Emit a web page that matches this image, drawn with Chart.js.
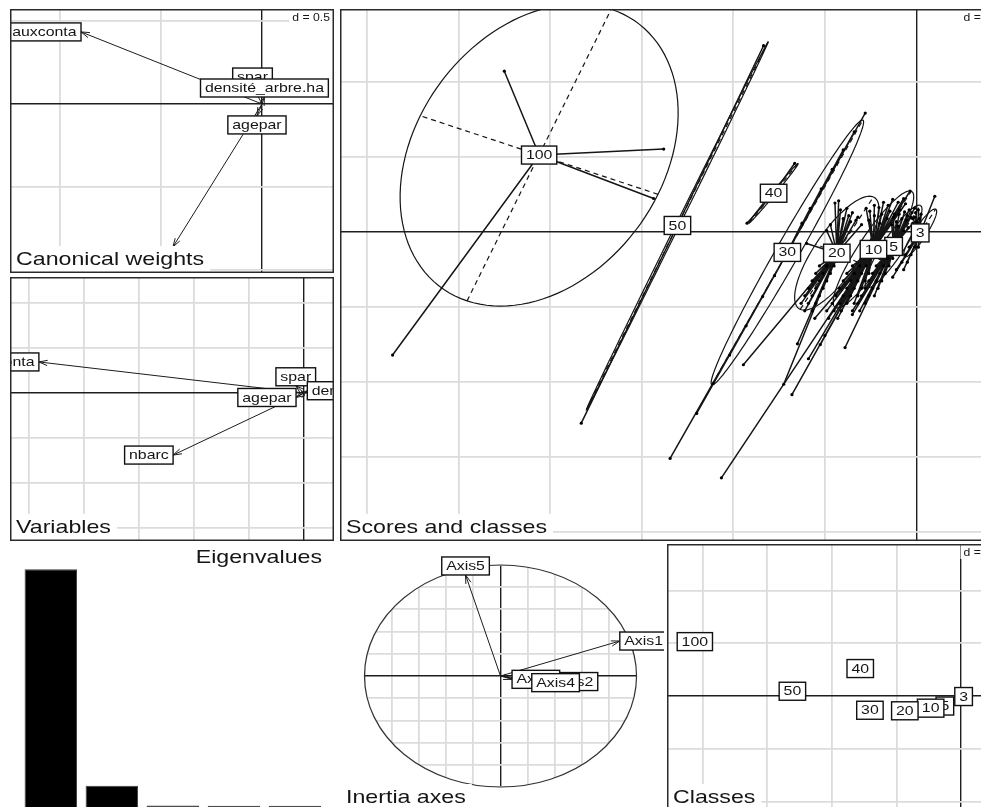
<!DOCTYPE html>
<html>
<head>
<meta charset="utf-8">
<title>Discriminant analysis</title>
<script src="https://cdn.jsdelivr.net/npm/chart.js@4.4.0/dist/chart.umd.min.js"></script>
<style>
  html, body { margin: 0; padding: 0; background: #fff; overflow: hidden; width: 981px; height: 807px; }
  canvas { position: absolute; }
</style>
</head>
<body>
<canvas id="weights"  width="324" height="264" style="left:10px;top:9px"></canvas>
<canvas id="vars"     width="324" height="264" style="left:10px;top:277px"></canvas>
<canvas id="scores"   width="655" height="532" style="left:340px;top:9px"></canvas>
<canvas id="eigen"    width="324" height="266" style="left:10px;top:545px"></canvas>
<canvas id="inertia"  width="324" height="266" style="left:340px;top:545px"></canvas>
<canvas id="classes"  width="328" height="267" style="left:667px;top:544px"></canvas>
<script>
// ---------- data ----------
const variables = ['agepar', 'nbarc', 'auxconta', 'spar', 'densité_arbre.ha'];
// canonical weights of the variables
const canonicalX = [-0.025, -0.441, -0.896, -0.047, 0.012];
const canonicalY = [-0.072, -0.861, 0.434, 0.108, 0.042];
// correlations between variables and discriminant scores
const variableX = [-0.029, -0.476, -0.964, -0.030, 0.012];
const variableY = [-0.020, -0.276, 0.138, 0.032, 0.010];

const eigenAxes = ['1', '2', '3', '4', '5'];
const eigenvalues = [0.786, 0.082, 0.018, 0.017, 0.017];

const inertiaNames = ['Axis1', 'Axis2', 'Axis3', 'Axis4', 'Axis5'];
const inertiaX = [0.877, 0.365, 0.085, 0.230, -0.257];
const inertiaY = [0.315, -0.050, -0.030, -0.060, 0.910];

const classes = ['3', '5', '10', '20', '30', '40', '50', '100'];
const classX = [0.04, -0.25, -0.47, -0.87, -1.41, -1.56, -2.61, -4.12];
const classY = [-0.01, -0.19, -0.23, -0.28, -0.27, 0.52, 0.09, 1.03];

// dispersion ellipses of the classes: half axes and orientation (degrees)
const ellipseA = [0.36, 0.62, 0.88, 0.85, 1.95, 0.48, 2.65, 2.10];
const ellipseB = [0.07, 0.12, 0.17, 0.26, 0.13, 0.02, 0.02, 1.40];
const ellipseAngle = [62, 62, 62, 62, 65, 56, 68, 68];

// individual discriminant scores, one list per class
const scores3 = [[0.20,0.48],[0.02,0.30],[0.05,0.24],[-0.02,0.20],[0.00,0.14],[0.08,0.10],
  [-0.04,0.18],[-0.01,0.26],[0.03,0.18],
  [-0.04,-0.10],[0.02,-0.10],[-0.08,-0.20],[-0.02,-0.20],[0.02,-0.20],[-0.12,-0.30],
  [-0.06,-0.30],[-0.16,-0.40],[-0.10,-0.40],[-0.22,-0.50],[-0.14,-0.50],[-0.26,-0.60]];
const scores5 = [[-0.02,0.32],[-0.05,0.26],[-0.08,0.30],[-0.10,0.22],[-0.13,0.27],[-0.16,0.18],
  [-0.19,0.24],[-0.22,0.14],[-0.25,0.20],[-0.04,0.12],[-0.09,0.06],[-0.14,0.02],
  [-0.20,0.08],[-0.27,0.10],[-0.06,0.20],[-0.11,0.16],
  [-0.32,-0.35],[-0.40,-0.35],[-0.26,-0.35],[-0.36,-0.45],[-0.44,-0.45],[-0.30,-0.45],
  [-0.40,-0.55],[-0.48,-0.55],[-0.34,-0.55],[-0.44,-0.65],[-0.52,-0.65],[-0.38,-0.65],
  [-0.48,-0.75],[-0.56,-0.75],[-0.42,-0.75],[-0.52,-0.85],[-0.60,-0.85],[-0.46,-0.85],
  [-0.56,-0.95],[-0.64,-0.95],[-0.62,-1.05],[-0.70,-1.05],[-0.78,-1.54],[-0.70,-1.10]];
const scores10 = [[-0.07,0.55],[-0.14,0.45],[-0.20,0.40],[-0.26,0.44],[-0.31,0.36],[-0.36,0.40],
  [-0.41,0.33],[-0.46,0.36],[-0.51,0.28],[-0.55,0.32],[-0.24,0.24],[-0.32,0.18],[-0.40,0.12],
  [-0.18,0.30],[-0.29,0.28],[-0.38,0.24],[-0.46,0.22],[-0.52,0.16],[-0.12,0.38],
  [-0.62,-0.45],[-0.70,-0.45],[-0.55,-0.45],[-0.60,-0.55],[-0.68,-0.55],[-0.76,-0.55],
  [-0.52,-0.55],[-0.64,-0.65],[-0.72,-0.65],[-0.80,-0.65],[-0.56,-0.65],[-0.68,-0.75],
  [-0.76,-0.75],[-0.84,-0.75],[-0.60,-0.75],[-0.72,-0.85],[-0.80,-0.85],[-0.88,-0.85],
  [-0.64,-0.85],[-0.76,-0.95],[-0.84,-0.95],[-0.92,-0.95],[-0.68,-0.95],[-0.82,-1.05],
  [-0.90,-1.05],[-0.98,-1.05],[-0.86,-1.15],[-0.96,-1.15],[-1.11,-1.15],[-1.18,-1.69],
  [-1.36,-2.17],[-2.13,-3.28],[-1.05,-1.50],[-1.00,-1.38]];
const scores20 = [[-0.89,0.39],[-0.85,0.42],[-0.76,0.32],[-0.70,0.26],[-0.64,0.20],[-0.72,0.14],
  [-0.80,0.18],[-0.60,0.10],[-0.98,0.02],[-1.20,-0.15],[-0.74,0.22],[-0.66,0.16],
  [-0.83,0.30],[-0.94,0.10],
  [-0.98,-0.45],[-1.06,-0.45],[-0.90,-0.45],[-1.02,-0.55],[-1.10,-0.55],[-0.94,-0.55],
  [-1.06,-0.65],[-1.14,-0.65],[-0.98,-0.65],[-1.10,-0.75],[-1.18,-0.75],[-1.02,-0.75],
  [-1.14,-0.85],[-1.22,-0.85],[-1.06,-0.85],[-1.18,-0.95],[-1.26,-0.95],[-1.10,-0.95],
  [-1.22,-1.05],[-1.14,-1.05],[-1.30,-1.49],[-1.89,-1.77],[-1.45,-2.03]];
const scores30 = [[-0.56,1.59],[-0.68,1.34],[-0.80,1.10],[-0.92,0.84],[-1.04,0.58],[-1.16,0.32],
  [-1.25,0.12],[-2.69,-3.02],[-2.40,-2.42],[-2.22,-2.02],[-2.04,-1.64],[-1.86,-1.25],
  [-1.68,-0.86],[-1.55,-0.58]];
const scores40 = [[-1.33,0.92],[-1.85,0.12]];
const scores50 = [[-1.67,2.49],[-3.66,-2.55]];
const scores100 = [[-4.50,2.15],[-2.76,1.11],[-2.87,0.45],[-5.72,-1.64]];
const classScores = [scores3, scores5, scores10, scores20, scores30, scores40, scores50, scores100];

// ---------- drawing helpers ----------
const SX = 1.22;                       // horizontal stretch of the lettering
const FAMILY = '"Liberation Sans", Arial, sans-serif';
const LABEL_FONT = '13px ' + FAMILY;
const TITLE_FONT = '19px ' + FAMILY;
const D_FONT = '10px ' + FAMILY;
const GRID = '#dcdcdc', AXIS = '#1e1e1e', INK = '#151515';
const BOX_H = 18;

Chart.defaults.animation = false;
Chart.defaults.events = [];
Chart.defaults.plugins.legend.display = false;
Chart.defaults.plugins.tooltip.enabled = false;

const flatLayout = { autoPadding: false, padding: 0 };

function multiples(min, max, step) {
  const out = [];
  for (let k = Math.ceil(min / step - 1e-9); k * step <= max + 1e-9; k++) out.push(+(k * step).toFixed(10));
  return out;
}
function linScale(min, max, step) {
  return {
    type: 'linear', min, max,
    ticks: { display: false },
    border: { display: false },
    grid: {
      drawTicks: false,
      color: c => Math.abs(c.tick.value) < 1e-9 ? AXIS : GRID,
      lineWidth: c => Math.abs(c.tick.value) < 1e-9 ? 1.4 : 1.8
    },
    afterBuildTicks: s => { s.ticks = multiples(min, max, step).map(v => ({ value: v })); }
  };
}
function textW(ctx, t, font) {
  ctx.save(); ctx.font = font; const w = ctx.measureText(t).width * SX; ctx.restore(); return w;
}
function drawText(ctx, t, x, y, font, align, color) {
  ctx.save(); ctx.translate(x, y); ctx.scale(SX, 1);
  ctx.font = font; ctx.textAlign = align || 'center'; ctx.textBaseline = 'middle';
  ctx.fillStyle = color || INK; ctx.fillText(t, 0, 0); ctx.restore();
}
function labelBox(ctx, t, x0, y0, w, h) {
  ctx.save();
  ctx.fillStyle = '#fff'; ctx.fillRect(x0, y0, w, h);
  ctx.strokeStyle = '#111'; ctx.lineWidth = 1.4; ctx.strokeRect(x0, y0, w, h);
  ctx.restore();
  drawText(ctx, t, x0 + w / 2, y0 + h / 2 + 0.5, LABEL_FONT);
}
function centredLabel(ctx, t, px, py) {
  const w = textW(ctx, ' ' + t + ' ', LABEL_FONT);
  labelBox(ctx, t, px - w / 2, py - BOX_H / 2, w, BOX_H);
}
// label beside an arrow tip, on the side the arrow points to
function arrowLabel(ctx, t, px, py, xr, yr) {
  const w = textW(ctx, ' ' + t + ' ', LABEL_FONT), h = BOX_H;
  let x0, y0;
  if (xr > yr && xr > -yr) { x0 = px; y0 = py - h / 2; }
  else if (xr > yr) { x0 = px - w / 2; y0 = py; }
  else if (xr <= -yr) { x0 = px - w; y0 = py - h / 2; }
  else { x0 = px - w / 2; y0 = py - h; }
  labelBox(ctx, t, x0, y0, w, h);
}
function arrow(ctx, x0, y0, x1, y1) {
  const a = Math.atan2(y1 - y0, x1 - x0), L = 9, t = 0.3;
  ctx.beginPath();
  ctx.moveTo(x0, y0); ctx.lineTo(x1, y1);
  ctx.moveTo(x1 - L * Math.cos(a - t), y1 - L * Math.sin(a - t));
  ctx.lineTo(x1, y1);
  ctx.lineTo(x1 - L * Math.cos(a + t), y1 - L * Math.sin(a + t));
  ctx.stroke();
}
function clipArea(ctx, a) {
  ctx.beginPath(); ctx.rect(a.left, a.top, a.right - a.left, a.bottom - a.top); ctx.clip();
}
function subTitle(chart, text) {
  const ctx = chart.ctx, a = chart.chartArea;
  const w = textW(ctx, text, TITLE_FONT) + 12, h = 27;
  ctx.fillStyle = '#fff'; ctx.fillRect(a.left, a.bottom - h, w, h);
  drawText(ctx, text, a.left + 6, a.bottom - 13, TITLE_FONT, 'left');
}
function dLabel(chart, text) {
  const ctx = chart.ctx, a = chart.chartArea;
  const w = textW(ctx, text, D_FONT);
  ctx.fillStyle = '#fff'; ctx.fillRect(a.right - w - 7, a.top, w + 7, 15);
  drawText(ctx, text, a.right - 4, a.top + 9, D_FONT, 'right');
}
function frame(chart) {
  const ctx = chart.ctx, a = chart.chartArea;
  ctx.save(); ctx.strokeStyle = '#2a2a2a'; ctx.lineWidth = 1.5;
  ctx.strokeRect(a.left + 0.75, a.top + 0.75, a.right - a.left - 1.5, a.bottom - a.top - 1.5);
  ctx.restore();
}
function unitCircle(ctx, xs, ys) {
  ctx.beginPath();
  ctx.ellipse(xs.getPixelForValue(0), ys.getPixelForValue(0),
    xs.getPixelForValue(1) - xs.getPixelForValue(0),
    ys.getPixelForValue(0) - ys.getPixelForValue(1), 0, 0, 2 * Math.PI);
}
function drawEllipse(ctx, xs, ys, cx, cy, a, b, deg) {
  const th = deg * Math.PI / 180, c = Math.cos(th), s = Math.sin(th);
  const P = (u, v) => [xs.getPixelForValue(cx + u * c - v * s), ys.getPixelForValue(cy + u * s + v * c)];
  ctx.beginPath();
  for (let k = 0; k <= 120; k++) {
    const t = 2 * Math.PI * k / 120;
    const p = P(a * Math.cos(t), b * Math.sin(t));
    if (k) ctx.lineTo(p[0], p[1]); else ctx.moveTo(p[0], p[1]);
  }
  ctx.stroke();
  ctx.save(); ctx.setLineDash([5, 4]); ctx.beginPath();
  let p1 = P(-a, 0), p2 = P(a, 0); ctx.moveTo(p1[0], p1[1]); ctx.lineTo(p2[0], p2[1]);
  p1 = P(0, -b); p2 = P(0, b); ctx.moveTo(p1[0], p1[1]); ctx.lineTo(p2[0], p2[1]);
  ctx.stroke(); ctx.restore();
}

// ---------- arrow panels ----------
function arrowPlugin(names, xs, ys, title, dText, opts) {
  opts = opts || {};
  return {
    id: 'arrows',
    beforeDraw(chart) {
      if (opts.circle) {
        const ctx = chart.ctx; ctx.save();
        unitCircle(ctx, chart.scales.x, chart.scales.y); ctx.clip();
      }
    },
    beforeDatasetsDraw(chart) {
      const ctx = chart.ctx;
      if (opts.circle) {
        ctx.restore();
        ctx.save(); ctx.strokeStyle = '#333'; ctx.lineWidth = 1.2;
        unitCircle(ctx, chart.scales.x, chart.scales.y); ctx.stroke(); ctx.restore();
      }
      if (dText) dLabel(chart, dText);
    },
    afterDatasetsDraw(chart) {
      const ctx = chart.ctx, a = chart.chartArea;
      const ox = chart.scales.x.getPixelForValue(0), oy = chart.scales.y.getPixelForValue(0);
      const meta = chart.getDatasetMeta(0);
      ctx.save(); clipArea(ctx, a);
      ctx.strokeStyle = '#1c1c1c'; ctx.lineWidth = 1;
      meta.data.forEach(p => arrow(ctx, ox, oy, p.x, p.y));
      meta.data.forEach((p, i) => arrowLabel(ctx, names[i], p.x, p.y, xs[i], ys[i]));
      ctx.restore();
    },
    afterDraw(chart) {
      subTitle(chart, title);
      if (!opts.circle) frame(chart);
    }
  };
}
function arrowChart(id, names, xs, ys, xr, yr, step, title, dText, opts) {
  return new Chart(document.getElementById(id), {
    type: 'scatter',
    data: { datasets: [{ data: names.map((_, i) => ({ x: xs[i], y: ys[i] })), pointRadius: 0 }] },
    options: {
      responsive: false, devicePixelRatio: 1, layout: flatLayout,
      scales: { x: linScale(xr[0], xr[1], step), y: linScale(yr[0], yr[1], step) }
    },
    plugins: [arrowPlugin(names, xs, ys, title, dText, opts)]
  });
}

arrowChart('weights', variables, canonicalX, canonicalY, [-1.2475, 0.3564], [-1.018, 0.572], 0.5,
  'Canonical weights', 'd = 0.5');
arrowChart('vars', variables, variableX, variableY, [-1.069, 0.109], [-0.658, 0.5156], 0.2,
  'Variables', null);
arrowChart('inertia', inertiaNames, inertiaX, inertiaY, [-1.180, 1.202], [-1.216, 1.180], 0.2,
  'Inertia axes', null, { circle: true });

// ---------- scores and classes ----------
const scoresPlugin = {
  id: 'scoreMarks',
  beforeDatasetsDraw(chart) {
    dLabel(chart, 'd = 1');
    const ctx = chart.ctx, xs = chart.scales.x, ys = chart.scales.y;
    const cMeta = chart.getDatasetMeta(classScores.length);
    ctx.save(); clipArea(ctx, chart.chartArea);
    ctx.strokeStyle = INK; ctx.lineWidth = 1.5;
    classScores.forEach((pts, k) => {
      const c = cMeta.data[k];
      ctx.beginPath();
      chart.getDatasetMeta(k).data.forEach(p => { ctx.moveTo(c.x, c.y); ctx.lineTo(p.x, p.y); });
      ctx.stroke();
    });
    ctx.lineWidth = 1.2;
    classes.forEach((_, k) =>
      drawEllipse(ctx, xs, ys, classX[k], classY[k], ellipseA[k], ellipseB[k], ellipseAngle[k]));
    ctx.restore();
  },
  afterDatasetsDraw(chart) {
    const ctx = chart.ctx;
    ctx.save(); clipArea(ctx, chart.chartArea);
    chart.getDatasetMeta(classScores.length).data.forEach((p, k) => centredLabel(ctx, classes[k], p.x, p.y));
    ctx.restore();
  },
  afterDraw(chart) { subTitle(chart, 'Scores and classes'); frame(chart); }
};
const scoreSets = classScores.map(pts => ({
  data: pts.map(p => ({ x: p[0], y: p[1] })),
  pointRadius: 1.6, pointBackgroundColor: '#000', pointBorderWidth: 0
}));
scoreSets.push({ data: classes.map((_, k) => ({ x: classX[k], y: classY[k] })), pointRadius: 0 });
new Chart(document.getElementById('scores'), {
  type: 'scatter',
  data: { datasets: scoreSets },
  options: {
    responsive: false, devicePixelRatio: 1, layout: flatLayout,
    scales: { x: linScale(-6.294, 0.857, 1), y: linScale(-4.123, 2.98, 1) }
  },
  plugins: [scoresPlugin]
});

const classesPlugin = {
  id: 'classLabels',
  beforeDatasetsDraw(chart) { dLabel(chart, 'd = 1'); },
  afterDatasetsDraw(chart) {
    const ctx = chart.ctx;
    ctx.save(); clipArea(ctx, chart.chartArea);
    chart.getDatasetMeta(0).data.forEach((p, k) => centredLabel(ctx, classes[k], p.x, p.y));
    ctx.restore();
  },
  afterDraw(chart) { subTitle(chart, 'Classes'); frame(chart); }
};
new Chart(document.getElementById('classes'), {
  type: 'scatter',
  data: { datasets: [{ data: classes.map((_, k) => ({ x: classX[k], y: classY[k] })), pointRadius: 0 }] },
  options: {
    responsive: false, devicePixelRatio: 1, layout: flatLayout,
    scales: { x: linScale(-4.551, 0.526, 1), y: linScale(-2.178, 2.879, 1) }
  },
  plugins: [classesPlugin]
});

// ---------- eigenvalues ----------
new Chart(document.getElementById('eigen'), {
  type: 'bar',
  data: {
    labels: eigenAxes,
    datasets: [{
      data: eigenvalues, backgroundColor: '#000', borderColor: '#3c3c3c', borderWidth: 1,
      barPercentage: 0.86, categoryPercentage: 1
    }]
  },
  options: {
    responsive: false, devicePixelRatio: 1,
    layout: { autoPadding: false, padding: { left: 10.3, right: 8.5, top: 20, bottom: 0 } },
    scales: { x: { display: false }, y: { display: false, min: 0, max: 0.8 } }
  },
  plugins: [{
    id: 'eigenTitle',
    afterDraw(chart) { drawText(chart.ctx, 'Eigenvalues', 312, 13, TITLE_FONT, 'right'); }
  }]
});
</script>
</body>
</html>
